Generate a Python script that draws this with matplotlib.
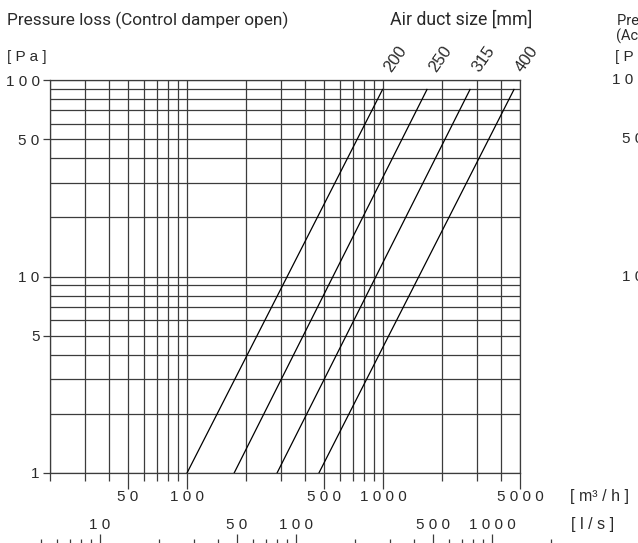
import matplotlib
matplotlib.use("Agg")
import matplotlib.pyplot as plt
from matplotlib.ticker import FixedLocator, FixedFormatter, NullFormatter

# Данные диаграммы
duct_sizes = ["200", "250", "315", "400"]
flow_start = [100, 174, 288, 471]      # м3/ч при 1 Па
flow_end = [995, 1677, 2780, 4660]     # м3/ч в верхней точке
dp_start = [1, 1, 1, 1]
dp_end = [89.5, 89.5, 89.5, 89.5]

x_major = [50, 100, 500, 1000, 5000]
x_major_labels = ["5 0", "1 0 0", "5 0 0", "1 0 0 0", "5 0 0 0"]
x_minor = [20, 30, 40, 60, 70, 80, 90, 200, 300, 400, 600, 700, 800, 900,
           2000, 3000, 4000]
y_major = [1, 5, 10, 50, 100]
y_major_labels = ["1", "5", "1 0", "5 0", "1 0 0"]
y_minor = [2, 3, 4, 6, 7, 8, 9, 20, 30, 40, 60, 70, 80, 90]

ls_major = [10, 50, 100, 500, 1000]
ls_major_labels = ["1 0", "5 0", "1 0 0", "5 0 0", "1 0 0 0"]
ls_minor = [5, 6, 7, 8, 9, 20, 30, 40, 60, 70, 80, 90, 200, 300, 400,
            600, 700, 800, 900, 2000]

W, H = 638, 543
plt.rcParams['font.family'] = ['Liberation Sans', 'DejaVu Sans']
ink = '#2a2a2a'
grid_c = '#3c3c3c'

fig = plt.figure(figsize=(W / 100, H / 100), dpi=100)

def fx(px):
    return px / W

def fy(py):
    return 1 - py / H

# Основная ось (м3/ч)
ax = fig.add_axes([fx(50), fy(473), (520 - 50) / W, (473 - 80) / H])
ax.set_xscale('log')
ax.set_yscale('log')
ax.set_xlim(20, 5000)
ax.set_ylim(1, 100)

ax.xaxis.set_major_locator(FixedLocator(x_major))
ax.xaxis.set_major_formatter(FixedFormatter(x_major_labels))
ax.xaxis.set_minor_locator(FixedLocator(x_minor))
ax.xaxis.set_minor_formatter(NullFormatter())
ax.yaxis.set_major_locator(FixedLocator(y_major))
ax.yaxis.set_major_formatter(FixedFormatter(y_major_labels))
ax.yaxis.set_minor_locator(FixedLocator(y_minor))
ax.yaxis.set_minor_formatter(NullFormatter())

ax.grid(True, which='both', color=grid_c, linewidth=0.9)
ax.tick_params(axis='x', which='major', length=11.5, width=0.9, color=grid_c,
               pad=0.5, labelsize=11, labelcolor=ink)
ax.tick_params(axis='x', which='minor', length=5.8, width=0.9, color=grid_c)
ax.tick_params(axis='y', which='major', length=5, width=0.9, color=grid_c,
               pad=2.5, labelsize=11, labelcolor=ink)
ax.tick_params(axis='y', which='minor', length=0)
for s in ax.spines.values():
    s.set_color(grid_c)
    s.set_linewidth(0.9)

# Линии для размеров воздуховода
for i in range(len(duct_sizes)):
    ax.plot([flow_start[i], flow_end[i]], [dp_start[i], dp_end[i]],
            color='black', linewidth=0.9)
    ax.annotate(duct_sizes[i], xy=(flow_end[i], dp_end[i]),
                xytext=(6.5, 12), textcoords='offset points',
                rotation=55, rotation_mode='anchor', ha='left', va='baseline',
                fontsize=12, color=ink)

# Вторая шкала (л/с)
ax2 = fig.add_axes([fx(30), fy(545), (570 - 30) / W, 0.0001])
ax2.set_xscale('log')
ax2.set_xlim(20 * 10 ** (-20 / 196) / 3.6, 5000 * 10 ** (50 / 196) / 3.6)
ax2.set_yticks([])
for s in ax2.spines.values():
    s.set_visible(False)
ax2.xaxis.set_ticks_position('top')
ax2.xaxis.set_label_position('top')
ax2.xaxis.set_major_locator(FixedLocator(ls_major))
ax2.xaxis.set_major_formatter(FixedFormatter(ls_major_labels))
ax2.xaxis.set_minor_locator(FixedLocator(ls_minor))
ax2.xaxis.set_minor_formatter(NullFormatter())
ax2.tick_params(axis='x', which='major', length=8, width=0.9, color=grid_c,
                pad=1, labelsize=11, labelcolor=ink)
ax2.tick_params(axis='x', which='minor', length=4.3, width=0.9, color=grid_c)
ax2.patch.set_visible(False)

# Подписи
fig.text(fx(7), fy(20), "Pressure loss (Control damper open)", family='Roboto',
         fontsize=12.4, color=ink, ha='left', va='center')
fig.text(fx(461), fy(20), "Air duct size [mm]", family='Roboto',
         fontsize=12.8, color=ink, ha='center', va='center')
fig.text(fx(7), fy(57), "[ P a ]", fontsize=11, color=ink, ha='left', va='center')
fig.text(fx(570), fy(497), "[ m³ / h ]", fontsize=11.5, color=ink,
         ha='left', va='center')
fig.text(fx(571), fy(525), "[ l / s ]", fontsize=11.5, color=ink,
         ha='left', va='center')

# Обрезанная соседняя диаграмма справа
fig.text(fx(617), fy(21), "Pressure loss", family='Roboto', fontsize=10.5,
         color=ink, ha='left', va='center')
fig.text(fx(616), fy(36), "(Actual position)", family='Roboto', fontsize=10.5,
         color=ink, ha='left', va='center')
fig.text(fx(615), fy(57), "[ P a ]", fontsize=11, color=ink, ha='left', va='center')
fig.text(fx(612), fy(80), "1 0 0", fontsize=11, color=ink, ha='left', va='center')
fig.text(fx(622), fy(139), "5 0", fontsize=11, color=ink, ha='left', va='center')
fig.text(fx(622), fy(277), "1 0", fontsize=11, color=ink, ha='left', va='center')

fig.savefig("out.png", dpi=100)
